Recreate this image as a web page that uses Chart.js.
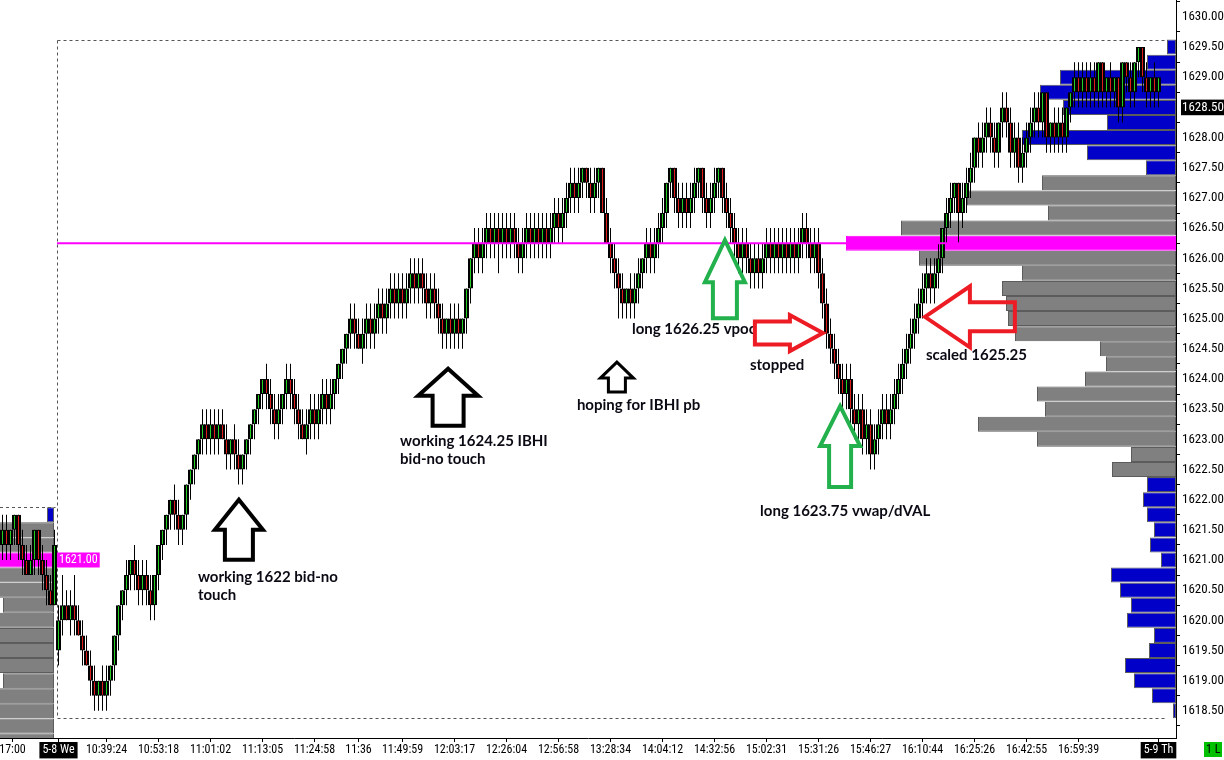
<!DOCTYPE html>
<html><head><meta charset="utf-8">
<script src="https://cdn.jsdelivr.net/npm/chart.js@4.4.1/dist/chart.umd.min.js"></script>
<style>html,body{margin:0;padding:0;background:#fff;overflow:hidden}</style>
</head><body>
<canvas id="c" width="1224" height="760"></canvas>
<script>
// ---------- DATA ----------
// previous session (5-8) last bars
const prevFirstOpen = 1621.5;
const prevCloses = [1621.25,1621.5,1621.25,1621.5,1621.75,1621.25,1621,1620.75,1621,1621.5,1621,1620.75,1620.5,1620.25,1621.25];
const prevHighs  = [1621.75,1621.75,1621.75,1621.5,1621.75,1621.75,1621.5,1621.25,1621.25,1621.5,1621.5,1621.25,1621,1620.75,1621.5];
const prevLows   = [1621.25,1621,1621,1621,1621.25,1621,1620.75,1620.75,1620.75,1620.75,1620.75,1620.5,1620.25,1620.25,1620.25];

// today session bars
const todayFirstOpen = 1619.5;
const closes = [
1620,1620.25,1620,1620.25,1620,1619.75,1619.5,1619.25,1619,1618.75,
1619,1618.75,1619,1619.25,1619.75,1620.25,1620.5,1620.75,1621,1620.75,
1620.5,1620.75,1620.5,1620.25,1620.75,1621.25,1621.5,1621.75,1622,1621.75,
1621.5,1621.75,1622.25,1622.5,1622.75,1623,1623.25,1623,1623.25,1623,
1623.25,1623,1622.75,1623,1622.75,1622.5,1622.75,1623,1623.25,1623.5,
1623.75,1624,1623.75,1623.5,1623.25,1623.5,1623.75,1624,1623.75,1623.5,
1623.25,1623,1623.25,1623.5,1623.25,1623.5,1623.75,1623.5,1623.75,1624,
1624.25,1624.5,1624.75,1625,1624.75,1624.5,1624.75,1625,1624.75,1625,
1625.25,1625,1625.25,1625.5,1625.25,1625.5,1625.25,1625.5,1625.75,1625.5,
1625.75,1625.5,1625.25,1625.5,1625.25,1625,1624.75,1625,1624.75,1625,
1624.75,1625,1625.5,1626,1626.25,1626,1626.25,1626.5,1626.25,1626.5,
1626.25,1626.5,1626.25,1626.5,1626.25,1626,1626.25,1626.5,1626.25,1626.5,
1626.25,1626.5,1626.25,1626.5,1626.75,1626.5,1626.75,1627,1627.25,1627,
1627.25,1627.5,1627.25,1627,1627.25,1627.5,1626.75,1626.25,1626,1625.75,
1625.5,1625.25,1625.5,1625.25,1625.5,1625.75,1626,1626.25,1626,1626.25,
1626.5,1626.75,1627.25,1627.5,1627,1626.75,1627,1626.75,1627,1627.25,
1627.5,1627,1626.75,1627,1627.25,1627.5,1627,1626.75,1626.5,1626.25,
1626,1626.25,1626,1625.75,1626,1625.75,1626,1626.25,1626,1626.25,
1626,1626.25,1626,1626.25,1626,1626.25,1626.5,1626.25,1626,1626.25,
1625.75,1625.25,1624.75,1624.5,1624.25,1624,1623.75,1624,1623.5,1623.25,
1623.5,1623,1623.25,1622.75,1623,1623.25,1623.5,1623.25,1623.5,1623.75,
1624,1624.25,1624.5,1624.75,1625,1625.25,1625.5,1625.75,1625.5,1625.75,
1626,1626.5,1626.75,1627,1627.25,1626.75,1627,1627.25,1627.5,1628,
1627.75,1628,1628.25,1628,1627.75,1628.25,1628.5,1628.25,1627.75,1628,
1627.5,1627.75,1628,1628.25,1628.5,1628.25,1628.75,1628,1628.25,1628,
1628.25,1628,1628.5,1628.75,1629,1628.75,1629,1628.75,1629,1628.75,
1629.25,1628.75,1629,1628.75,1629,1628.5,1629.25,1629,1628.75,1629.25,
1629.5,1629,1628.75,1629,1628.75,1629];
const highs = [
1620.25,1620.75,1620.5,1620.5,1620.75,1620.25,1620,1619.75,1619.5,1619.25,
1619,1619.25,1619.25,1619.25,1619.75,1620.25,1620.5,1621,1621,1621.25,
1621,1621,1621,1620.75,1620.75,1621.25,1621.5,1621.75,1622,1622.25,
1622,1621.75,1622.25,1622.5,1622.75,1623,1623.5,1623.5,1623.5,1623.5,
1623.5,1623.5,1623.25,1623,1623.25,1623,1622.75,1623,1623.25,1623.5,
1623.75,1624,1624.25,1624,1623.75,1623.75,1623.75,1624.25,1624.25,1624,
1623.75,1623.5,1623.5,1623.75,1623.75,1623.75,1624,1624,1624,1624,
1624.25,1624.5,1624.75,1625.25,1625.25,1625,1625,1625.25,1625.25,1625.25,
1625.5,1625.5,1625.5,1625.75,1625.75,1625.75,1625.75,1625.75,1626,1626,
1626,1626,1625.75,1625.75,1625.75,1625.5,1625.25,1625,1625.25,1625.25,
1625.25,1625,1625.5,1626,1626.5,1626.5,1626.5,1626.75,1626.75,1626.75,
1626.75,1626.75,1626.75,1626.75,1626.75,1626.5,1626.5,1626.75,1626.75,1626.75,
1626.75,1626.75,1626.75,1626.75,1627,1627,1627,1627.25,1627.5,1627.5,
1627.5,1627.5,1627.5,1627.5,1627.5,1627.5,1627.5,1627,1626.5,1626.25,
1626,1625.75,1625.5,1625.75,1625.75,1626,1626,1626.5,1626.5,1626.5,
1626.75,1627,1627.25,1627.5,1627.5,1627.25,1627.25,1627.25,1627.25,1627.5,
1627.5,1627.5,1627.25,1627.25,1627.5,1627.5,1627.5,1627.25,1627,1626.75,
1626.5,1626.5,1626.5,1626.25,1626.25,1626.25,1626.25,1626.5,1626.5,1626.5,
1626.5,1626.5,1626.5,1626.5,1626.5,1626.5,1626.75,1626.75,1626.5,1626.5,
1626.5,1626,1625.5,1625,1624.75,1624.5,1624.25,1624.25,1624.25,1623.75,
1623.75,1623.75,1623.5,1623.5,1623.25,1623.5,1623.75,1623.75,1623.75,1624,
1624.25,1624.5,1624.75,1625,1625.25,1625.5,1625.75,1626,1626,1626,
1626.25,1626.5,1627,1627.25,1627.25,1627.25,1627.25,1627.5,1627.75,1628,
1628.25,1628.25,1628.5,1628.5,1628.25,1628.25,1628.75,1628.75,1628.5,1628.25,
1628.25,1628,1628.25,1628.5,1628.75,1628.75,1628.75,1628.75,1628.25,1628.5,
1628.5,1628.5,1628.5,1628.75,1629.25,1629.25,1629.25,1629.25,1629.25,1629.25,
1629.25,1629.25,1629,1629.25,1629,1629,1629.25,1629.25,1629.25,1629.25,
1629.5,1629.5,1629.25,1629,1629.25,1629];
const lows = [
1619.25,1619.75,1620,1619.75,1619.75,1619.75,1619.25,1619.25,1618.75,1618.5,
1618.5,1618.5,1618.5,1618.75,1619,1619.5,1620,1620.25,1620.5,1620.5,
1620.25,1620.25,1620.25,1620,1620,1620.5,1621,1621.25,1621.5,1621.5,
1621.25,1621.25,1621.5,1622,1622.25,1622.5,1622.75,1622.75,1622.75,1622.75,
1622.75,1623,1622.5,1622.5,1622.5,1622.25,1622.25,1622.5,1622.75,1623,
1623.25,1623.5,1623.5,1623.25,1623,1623,1623.25,1623.5,1623.5,1623.25,
1623,1623,1622.75,1623,1623,1623,1623.25,1623.25,1623.25,1623.5,
1623.75,1624,1624.25,1624.5,1624.5,1624.5,1624.25,1624.5,1624.5,1624.5,
1624.75,1624.75,1624.75,1625,1625,1625,1625,1625,1625.25,1625.25,
1625.25,1625.25,1625,1625,1625,1624.75,1624.5,1624.5,1624.5,1624.5,
1624.5,1624.5,1624.75,1625.25,1625.75,1625.75,1625.75,1626,1626,1626,
1625.75,1626,1626,1626,1626,1625.75,1625.75,1626,1626,1626,
1626,1626,1626,1626,1626.25,1626.25,1626.25,1626.5,1626.75,1626.75,
1626.75,1627,1627,1626.75,1626.75,1627,1626.75,1626.25,1625.75,1625.5,
1625,1625,1625,1625,1625,1625.25,1625.5,1625.75,1625.75,1625.75,
1626,1626.25,1626.5,1627,1626.75,1626.5,1626.5,1626.5,1626.5,1626.75,
1627,1626.75,1626.5,1626.5,1626.75,1627,1626.75,1626.5,1626.25,1626,
1625.75,1625.75,1625.75,1625.5,1625.5,1625.5,1625.5,1625.75,1625.75,1625.75,
1625.75,1625.75,1625.75,1625.75,1625.75,1625.75,1626,1626,1625.75,1625.75,
1625.5,1625,1624.5,1624.25,1624,1623.75,1623.5,1623.5,1623.25,1623,
1623,1622.75,1622.75,1622.5,1622.5,1622.75,1623,1623,1623,1623.25,
1623.5,1623.75,1624,1624.25,1624.5,1624.75,1625,1625.25,1625.25,1625.25,
1625.5,1625.75,1626.25,1626.5,1626.75,1626.25,1626.5,1626.75,1627,1627.25,
1627.5,1627.5,1627.75,1627.75,1627.5,1627.5,1628,1628,1627.5,1627.5,
1627.25,1627.25,1627.5,1627.75,1628,1628,1628,1627.75,1627.75,1627.75,
1627.75,1627.75,1627.75,1628.25,1628.5,1628.5,1628.5,1628.5,1628.5,1628.5,
1628.5,1628.5,1628.5,1628.5,1628.5,1628.25,1628.25,1628.75,1628.5,1628.5,
1629,1628.75,1628.5,1628.5,1628.5,1628.5];

// today volume profile (price row -> volume)
const profilePrices = [1629.5,1629.25,1629,1628.75,1628.5,1628.25,1628,1627.75,1627.5,1627.25,1627,1626.75,1626.5,1626.25,1626,
  1625.75,1625.5,1625.25,1625,1624.75,1624.5,1624.25,1624,1623.75,1623.5,1623.25,1623,1622.75,1622.5,1622.25,
  1622,1621.75,1621.5,1621.25,1621,1620.75,1620.5,1620.25,1620,1619.75,1619.5,1619.25,1619,1618.75,1618.5];
const profileVolumes = [9,29,116,136,113,69,154,89,30,134,209,128,275,330,257,
  154,174,170,168,161,76,70,91,139,131,198,139,45,64,29,
  33,29,22,26,15,65,56,45,49,22,27,51,42,24,3];
const vaHigh = 1627.25, vaLow = 1622.5, vpoc = 1626.25;

// previous session volume profile
const prevProfilePrices = [1621.75,1621.5,1621.25,1621,1620.75,1620.5,1620.25,1620,1619.75,1619.5,1619.25,1619,1618.75,1618.5,1618.25,1618];
const prevProfileVolumes = [7,70,78,95,80,66,51,72,64,70,60,51,62,58,66,60];
const prevVaHigh = 1621.5, prevPoc = 1621;

const lastPrice = 1628.5;
const priceTicks = [1618.5,1619,1619.5,1620,1620.5,1621,1621.5,1622,1622.5,1623,1623.5,1624,1624.5,1625,1625.5,1626,1626.5,1627,1627.5,1628,1628.5,1629,1629.5,1630];
const timeTickBars = [-11.5,0,12,25,38,51,64,75,86,99,112,125,138,151,164,177,190,203,216,229,242,255,275];
const timeLabels = ['17:00','5-8 We','10:39:24','10:53:18','11:01:02','11:13:05','11:24:58','11:36','11:49:59','12:03:17','12:26:04','12:56:58','13:28:34','14:04:12','14:32:56','15:02:31','15:31:26','15:46:27','16:10:44','16:25:26','16:42:55','16:59:39','5-9 Th'];

// annotations drawn on the chart (anchored at bar index / price, sizes in px)
const notes = [
  {shape:'up', bar:45.1, price:1622.0, hw:48, hh:30, sw:28, sh:30, color:'#000', lw:4, lines:['working 1622 bid-no','touch'], tx:-41, ty:82},
  {shape:'up', bar:97.4, price:1624.17, hw:60, hh:27, sw:31, sh:30, color:'#000', lw:4, lines:['working 1624.25 IBHI','bid-no touch'], tx:-48, ty:77},
  {shape:'up', bar:139.6, price:1624.28, hw:33, hh:16, sw:17, sh:14, color:'#000', lw:3, lines:['hoping for IBHI pb'], tx:-40, ty:48},
  {shape:'up', bar:166.6, price:1626.3, hw:40, hh:42, sw:24, sh:36, color:'#22b14c', lw:4, lines:['long 1626.25 vpoc'], tx:-93, ty:94},
  {shape:'right', bar:191.1, price:1624.76, hl:33, hh:36, sl:35, sh:23, color:'#ed1c24', lw:4, lines:['stopped'], tx:-73, ty:37},
  {shape:'up', bar:195.4, price:1623.55, hw:40, hh:40, sw:22, sh:41, color:'#22b14c', lw:4, lines:['long 1623.75 vwap/dVAL'], tx:-80, ty:110},
  {shape:'left', bar:216.6, price:1625.03, hl:45, hh:61, sl:45, sh:29, color:'#ed1c24', lw:4, lines:['scaled 1625.25'], tx:1, ty:43}
];

// ---------- BUILD ----------
const UP = '#22d022', DOWN = '#e01c1c', GRAY = '#808080', BLUE = '#0000c8', MAG = '#ff00ff', EDGE = '#5c5c5c';
const NARROW = "'Roboto Condensed','DejaVu Sans Condensed',sans-serif";
Chart.defaults.font.family = NARROW;

const nPrev = prevCloses.length;
function candleSets(cl, hi, lo, firstOpen, shift) {
  const wick = [], body = [], col = [];
  cl.forEach((c, i) => {
    const o = i === 0 ? firstOpen : cl[i - 1];
    wick.push({x: i + shift, y: [lo[i], hi[i]]});
    body.push({x: i + shift, y: [o, c]});
    col.push(c >= o ? UP : DOWN);
  });
  return {wick, body, col};
}
const prevC = candleSets(prevCloses, prevHighs, prevLows, prevFirstOpen, -nPrev);
const todC = candleSets(closes, highs, lows, todayFirstOpen, 0);

const profColors = profilePrices.map(p => p === vpoc ? MAG : (p > vaHigh || p < vaLow) ? BLUE : GRAY);
const profEdges = profilePrices.map(p => p === vpoc ? MAG : EDGE);
const prevColors = prevProfilePrices.map(p => p === prevPoc ? MAG : p > prevVaHigh ? BLUE : GRAY);
const prevEdges = prevProfilePrices.map(p => p === prevPoc ? MAG : EDGE);

const sessHigh = Math.max(...highs), sessLow = Math.min(...lows), prevHigh = Math.max(...prevHighs);

const wickOpts = {type:'bar', xAxisID:'x', yAxisID:'y', grouped:false, barThickness:1, backgroundColor:'#000', borderWidth:0, inflateAmount:0, order:3};
const bodyOpts = {type:'bar', xAxisID:'x', yAxisID:'y', grouped:false, barThickness:5, borderWidth:{left:2, right:2, top:1, bottom:1}, borderColor:'#000', borderSkipped:false, inflateAmount:0, order:2};

function drawUp(ctx, x, y, a) {
  ctx.beginPath();
  ctx.moveTo(x, y);
  ctx.lineTo(x + a.hw/2, y + a.hh); ctx.lineTo(x + a.sw/2, y + a.hh);
  ctx.lineTo(x + a.sw/2, y + a.hh + a.sh); ctx.lineTo(x - a.sw/2, y + a.hh + a.sh);
  ctx.lineTo(x - a.sw/2, y + a.hh); ctx.lineTo(x - a.hw/2, y + a.hh);
  ctx.closePath(); ctx.stroke();
}
function drawSide(ctx, x, y, d, a) {
  ctx.beginPath();
  ctx.moveTo(x, y);
  ctx.lineTo(x - d*a.hl, y - a.hh/2); ctx.lineTo(x - d*a.hl, y - a.sh/2);
  ctx.lineTo(x - d*(a.hl + a.sl), y - a.sh/2); ctx.lineTo(x - d*(a.hl + a.sl), y + a.sh/2);
  ctx.lineTo(x - d*a.hl, y + a.sh/2); ctx.lineTo(x - d*a.hl, y + a.hh/2);
  ctx.closePath(); ctx.stroke();
}

const decor = {
  id: 'decor',
  beforeDatasetsDraw(chart) {
    const {ctx, scales: {x, y}} = chart;
    ctx.save();
    ctx.setLineDash([3, 3]); ctx.strokeStyle = '#555'; ctx.lineWidth = 1;
    const l = Math.round(x.getPixelForValue(-0.375)) + 0.5;
    const r = Math.round(x.getPixelForValue(closes.length + 0.25)) + 0.5;
    const t = Math.round(y.getPixelForValue(sessHigh + 0.125)) + 0.5;
    const b = Math.round(y.getPixelForValue(sessLow - 0.125)) + 0.5;
    ctx.beginPath();
    ctx.moveTo(l, t); ctx.lineTo(r, t);
    ctx.moveTo(l, b); ctx.lineTo(r, b);
    ctx.moveTo(l, t); ctx.lineTo(l, b);
    const pt = Math.round(y.getPixelForValue(prevHigh + 0.125)) + 0.5;
    ctx.moveTo(0, pt); ctx.lineTo(l - 2, pt);
    ctx.stroke();
    ctx.restore();
  },
  afterDatasetsDraw(chart) {
    const {ctx, scales: {x, y, xl}} = chart;
    ctx.save();
    // previous session POC label
    ctx.font = '12px ' + NARROW;
    const lx = xl.getPixelForValue(0) + 3, ly = y.getPixelForValue(prevPoc);
    const txt = prevPoc.toFixed(2), w = ctx.measureText(txt).width + 4;
    ctx.fillStyle = MAG; ctx.fillRect(lx, ly - 7.5, w, 15);
    ctx.fillStyle = '#fff'; ctx.textBaseline = 'middle'; ctx.fillText(txt, lx + 2, ly + 0.5);
    // arrows + notes
    ctx.lineJoin = 'miter'; ctx.textBaseline = 'alphabetic';
    ctx.font = 'bold 15px Lato, sans-serif';
    notes.forEach(n => {
      const px = x.getPixelForValue(n.bar), py = y.getPixelForValue(n.price);
      ctx.strokeStyle = n.color; ctx.lineWidth = n.lw;
      if (n.shape === 'up') drawUp(ctx, px, py, n);
      else drawSide(ctx, px, py, n.shape === 'right' ? 1 : -1, n);
      ctx.fillStyle = '#0a0a14';
      n.lines.forEach((s, k) => ctx.fillText(s, px + n.tx, py + n.ty + k * 18));
    });
    ctx.restore();
  },
  afterDraw(chart) {
    const {ctx} = chart;
    ctx.save();
    ctx.fillStyle = '#00c000';
    ctx.fillRect(chart.width - 20, 742, 18, 15);
    ctx.fillStyle = '#000'; ctx.font = '12px ' + NARROW; ctx.textBaseline = 'middle';
    ctx.fillText('1 L', chart.width - 18, 750);
    ctx.restore();
  }
};

const isDate = s => typeof s === 'string' && s.indexOf('-') > 0;
const hiddenAxis = (extra) => Object.assign({
  type: 'linear', display: true, position: 'bottom', reverse: true, offset: false, bounds: 'data',
  grid: {display: false, offset: false}, border: {display: false}, ticks: {display: false},
  afterFit: s => { s.height = 0; s.paddingLeft = 0; s.paddingRight = 0; }
}, extra);

new Chart(document.getElementById('c'), {
  type: 'bar',
  data: {
    datasets: [
      {type:'bar', label:'profile', indexAxis:'y', xAxisID:'xp', yAxisID:'y', grouped:false, barThickness:15, borderWidth:1, borderSkipped:false, inflateAmount:0, order:10,
       data: profilePrices.map((p, k) => ({y: p, x: [0, profileVolumes[k]]})), backgroundColor: profColors, borderColor: profEdges},
      {type:'bar', label:'prevProfile', indexAxis:'y', xAxisID:'xl', yAxisID:'y', grouped:false, barThickness:15, borderWidth:1, borderSkipped:false, inflateAmount:0, order:10, clip:0,
       data: prevProfilePrices.map((p, k) => ({y: p, x: [0, prevProfileVolumes[k]]})), backgroundColor: prevColors, borderColor: prevEdges},
      Object.assign({label:'prevWicks', data: prevC.wick}, wickOpts),
      Object.assign({label:'prevBodies', data: prevC.body, backgroundColor: prevC.col}, bodyOpts),
      Object.assign({label:'wicks', data: todC.wick}, wickOpts),
      Object.assign({label:'bodies', data: todC.body, backgroundColor: todC.col}, bodyOpts),
      {type:'line', label:'vpoc', xAxisID:'x', yAxisID:'y', data:[{x:-0.375, y:vpoc}, {x:closes.length + 4, y:vpoc}],
       borderColor: MAG, borderWidth: 2, pointRadius: 0, order: 1}
    ]
  },
  options: {
    responsive: false, animation: false, devicePixelRatio: 1, events: [],
    layout: {padding: 0},
    plugins: {legend: {display: false}, tooltip: {enabled: false}},
    scales: {
      x: {
        type: 'linear', position: 'bottom', offset: false,
        min: -14.625, max: 279.375,
        afterBuildTicks: s => { s.ticks = timeTickBars.map(v => ({value: v})); },
        afterFit: s => { s.height = 22; s.paddingLeft = 0; s.paddingRight = 0; },
        grid: {drawOnChartArea: false, offset: false, tickLength: 4, color: '#000'},
        border: {display: true, color: '#000'},
        ticks: {
          autoSkip: false, maxRotation: 0, padding: 1,
          font: {size: 12},
          callback: (v, i) => timeLabels[i],
          color: c => isDate(c.tick && c.tick.label) ? '#fff' : '#000',
          showLabelBackdrop: c => isDate(c.tick && c.tick.label),
          backdropColor: '#000', backdropPadding: {left: 3, right: 3, top: 1, bottom: 1}
        }
      },
      y: {
        type: 'linear', position: 'right', offset: false, min: 1618.05, max: 1630.28,
        afterBuildTicks: s => { s.ticks = priceTicks.map(v => ({value: v})); },
        afterFit: s => { s.width = 48; s.paddingTop = 0; s.paddingBottom = 0; },
        grid: {drawOnChartArea: false, tickLength: 4, color: '#000'},
        border: {display: true, color: '#000'},
        ticks: {
          padding: 2, font: {size: 13},
          callback: v => Number(v).toFixed(2),
          color: c => (c.tick && c.tick.value === lastPrice) ? '#fff' : '#000',
          showLabelBackdrop: c => !!(c.tick && c.tick.value === lastPrice),
          backdropColor: '#000', backdropPadding: {left: 1, right: 2, top: 0, bottom: 0}
        }
      },
      xp: hiddenAxis({min: 0, max: 1176}),
      xl: hiddenAxis({min: -1122, max: 54})
    }
  },
  plugins: [decor]
});
</script>
</body></html>
